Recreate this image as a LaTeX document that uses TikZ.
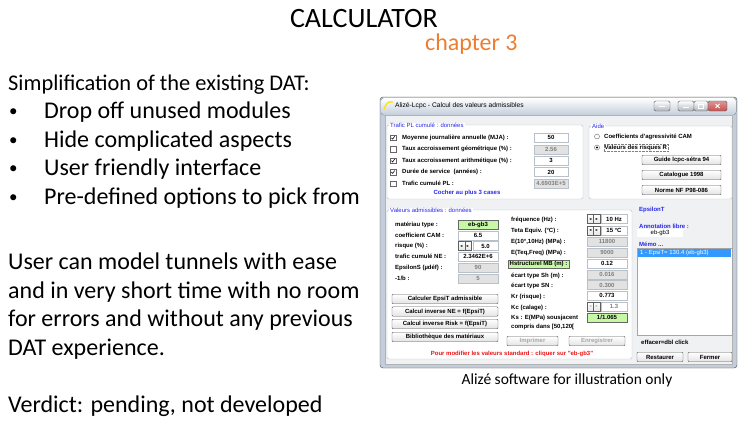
\documentclass[tikz,border=0pt]{standalone}
\usepackage{fontspec}
\setmainfont{Carlito}
\newfontfamily\winfont{Liberation Sans}
\usetikzlibrary{positioning}
\definecolor{chapterorange}{RGB}{237,125,49}
\definecolor{winframe}{RGB}{196,206,218}
\definecolor{winback}{RGB}{240,241,243}
\definecolor{groupline}{RGB}{186,192,200}
\definecolor{winblue}{RGB}{40,40,235}
\definecolor{winred}{RGB}{235,20,20}
\definecolor{fieldgray}{RGB}{226,226,226}
\definecolor{fieldgreen}{RGB}{198,248,166}
\definecolor{memosel}{RGB}{51,153,255}
\definecolor{closered}{RGB}{199,80,80}

\begin{document}
\begin{tikzpicture}[x=1pt,y=-1pt,
  slide/.style={font=\fontsize{24}{29}\selectfont,inner sep=0pt,anchor=base west},
  win/.style={font=\winfont\fontsize{6}{7}\selectfont\bfseries,inner sep=0pt},
  winlight/.style={font=\winfont\fontsize{6}{7}\selectfont,inner sep=0pt},
  lbl/.style={win,anchor=west},
  grouptitle/.style={winlight,anchor=west,text=winblue,fill=white,inner xsep=1pt},
  groupbox/.style={draw=groupline,fill=white,rounded corners=1.5pt},
  field/.style={win,draw=groupline,fill=white,minimum height=9pt,minimum width=40pt},
  grayfield/.style={field,fill=fieldgray,text=gray},
  greenfield/.style={field,draw=gray!80!black,fill=fieldgreen},
  btn/.style={win,draw=gray!75!black,top color=white,bottom color=gray!22,rounded corners=1pt,minimum height=9.5pt,minimum width=106pt},
  spin/.style={draw=gray!75!black,top color=white,bottom color=gray!20,minimum width=6.5pt,minimum height=9pt,inner sep=0pt,font=\winfont\fontsize{3.6}{4}\selectfont},
  chk/.style={draw=gray!80!black,fill=white,minimum size=5.5pt,inner sep=0pt},
  radio/.style={circle,draw=gray!80!black,fill=white,minimum size=5pt,inner sep=0pt},
  tbtn/.style={draw=gray!70!black,top color=white,bottom color=winframe!70!gray,rounded corners=1.5pt,minimum height=10pt,inner sep=0pt}]
\useasboundingbox (0,0) rectangle (739,421);

% slide text
\node[font=\fontsize{28}{34}\selectfont,anchor=base,inner sep=0pt] (title) at (364,27) {CALCULATOR};
\node[slide,text=chapterorange] (chapter) at (425,50) {chapter 3};
\node[slide,font=\fontsize{22.4}{29}\selectfont] (simpl) at (8,90) {Simplification of the existing DAT:};
\foreach \txt [count=\i] in {Drop off unused modules,Hide complicated aspects,User friendly interface,Pre-defined options to pick from}{
  \node[slide,font=\fontsize{17}{20}\selectfont] (bul\i) at (9,88+28.5*\i) {\textbullet};
  \node[slide] (item\i) at (44,90+28.5*\i) {\txt};
}
\foreach \txt [count=\i] in {User can model tunnels with ease,and in very short time with no room,for errors and without any previous,DAT experience.}
  \node[slide] (para\i) at (8,241+28.5*\i) {\txt};
\node[slide] (verdict) at (8,412) {Verdict: pending, not developed};

% window
\draw[draw=gray!60!black,fill=winframe,rounded corners=3pt] (380,97) rectangle (737,368);
\fill[top color=white,bottom color=winframe,rounded corners=3pt] (381,98) rectangle (736,115);
\draw[draw=gray!60,fill=winback] (385,115) rectangle (732,364);
\draw[draw=yellow!85!orange,line width=1.3pt] (384,109) .. controls (386,103) and (389,101) .. (393,102);
\node[winlight,anchor=west,font=\winfont\fontsize{6.7}{7}\selectfont] (wintitle) at (395,105.5) {Alizé-Lcpc - Calcul des valeurs admissibles};
\node[tbtn,minimum width=16pt] (tbhelp) at (662,106) {};
\node[tbtn,minimum width=16pt] (tbmin) at (686,106) {};
\node[tbtn,minimum width=14pt] (tbmax) at (701,106) {};
\node[tbtn,minimum width=19pt,top color=closered!60,bottom color=closered] (tbclose) at (717.5,106) {};
\draw[white,line width=1pt] ([xshift=-3pt]tbhelp.center) -- ([xshift=3pt]tbhelp.center);
\draw[white,line width=1pt] ([shift={(-3pt,-1.5pt)}]tbmin.center) -- ([shift={(3pt,-1.5pt)}]tbmin.center);
\draw[white,line width=0.6pt] ([shift={(-2.5pt,-2pt)}]tbmax.center) rectangle ([shift={(2.5pt,2pt)}]tbmax.center);
\draw[white,line width=0.9pt] ([shift={(-2pt,-2pt)}]tbclose.center) -- ([shift={(2pt,2pt)}]tbclose.center)
  ([shift={(-2pt,2pt)}]tbclose.center) -- ([shift={(2pt,-2pt)}]tbclose.center);

% Trafic PL
\draw[groupbox] (387,125) rectangle (583,199);
\node[grouptitle] (grp1) at (389,125) {Trafic PL cumulé : données};
\foreach \txt/\val/\kind [count=\i] in {
  {Moyenne journalière annuelle (MJA) :}/50/field,
  {Taux accroissement géométrique (\%) :}/2.56/grayfield,
  {Taux accroissement arithmétique (\%) :}/3/field,
  {Durée de service~ (années) :}/20/field,
  {Trafic cumulé PL :}/4.6903E+5/grayfield}{
  \node[chk] (chk\i) at (393,126.5+11.4*\i) {};
  \node[lbl] (pl\i) at (402,126.5+11.4*\i) {\txt};
  \node[\kind,minimum width=34pt] (plv\i) at (551,126.5+11.4*\i) {\val};
}
\foreach \i in {1,3,4}
  \draw[line width=0.55pt] ([xshift=-1.6pt]chk\i.center) -- ++(1.2,1.3) -- ++(2.1,-2.9);
\node[win,text=winblue] (cocher) at (467,193) {Cocher au plus 3 cases};

% Aide
\draw[groupbox] (589,126) rectangle (732,199);
\node[grouptitle] (grp2) at (591,126) {Aide};
\node[radio] (rad1) at (597,136.5) {};
\node[lbl] (cam) at (604,136.5) {Coefficients d'agressivité CAM};
\node[radio] (rad2) at (597,147.5) {};
\fill (rad2.center) circle (1.1pt);
\node[lbl,draw=gray,densely dotted,inner sep=1pt] (risq) at (603.5,147.5) {Valeurs des risques R};
\node[btn,minimum width=79pt] (guide) at (681.5,160) {Guide lcpc-sétra 94};
\node[btn,minimum width=79pt] (catal) at (681.5,175) {Catalogue 1998};
\node[btn,minimum width=79pt] (norme) at (681.5,190) {Norme NF P98-086};

% Valeurs admissibles
\draw[groupbox] (387,210) rectangle (632,359);
\node[grouptitle] (grp3) at (389,210) {Valeurs admissibles : données};
\foreach \txt [count=\i] in {{matériau type :},{coefficient CAM :},{risque (\%) :},{trafic cumulé NE :},{EpsilonS (µdéf) :},{-1/b :}}
  \node[lbl] (adm\i) at (395,214+10.7*\i) {\txt};
\node[greenfield] (admv1) at (478,224.7) {eb-gb3};
\node[field] (admv2) at (478,235.4) {6.5};
\node[spin] (admsl) at (461.5,246.1) {◄};
\node[spin] (admsr) at (468,246.1) {►};
\node[field,minimum width=25pt] (admv3) at (485.5,246.1) {5.0};
\node[field] (admv4) at (478,256.8) {2.3462E+6};
\node[grayfield] (admv5) at (478,267.5) {90};
\node[grayfield] (admv6) at (478,278.2) {5};
\foreach \txt/\yy [count=\i] in {{Calculer EpsiT admissible}/299,{Calcul inverse NE = f(EpsiT)}/311.5,{Calcul inverse Risk = f(EpsiT)}/324,{Bibliothèque des matériaux}/337}
  \node[btn] (calc\i) at (445,\yy) {\txt};
\node[btn,minimum width=51pt,text=gray!70] (imprimer) at (532.5,341) {Imprimer};
\node[btn,minimum width=56pt,text=gray!70] (enreg) at (597,341) {Enregistrer};
\node[win,text=winred] (modif) at (512,353.5) {Pour modifier les valeurs standard : cliquer sur "eb-gb3"};

\foreach \txt [count=\i] in {{fréquence (Hz) :},{Teta Equiv. (°C) :},{E(10°,10Hz) (MPa) :},{E(Teq,Freq) (MPa) :}}
  \node[lbl] (mid\i) at (511,208.5+11*\i) {\txt};
\node[lbl,draw=gray!80!black,fill=fieldgreen,inner xsep=1.5pt,inner ysep=1.3pt] (mid5) at (508,264) {Hstructurel MB (m) :};
\foreach \txt/\yy [count=\i from 6] in {{écart type Sh (m) :}/275.5,{écart type SN :}/286,{Kr (risque) :}/297,{Kc (calage) :}/307.5,{Ks : E(MPa) sousjacent}/318,{compris dans [50,120[}/326.5}
  \node[lbl] (mid\i) at (511,\yy) {\txt};

\foreach \val/\yy [count=\i] in {10 Hz/219,15 °C/230.5}{
  \node[spin] (sl\i) at (590.3,\yy) {◄};
  \node[spin] (sr\i) at (596.8,\yy) {►};
  \node[field,minimum width=26pt] (sv\i) at (614,\yy) {\val};
}
\foreach \val/\kind/\yy [count=\i] in {11800/grayfield/241.5,9000/grayfield/252.5,0.12/field/263.5,0.016/grayfield/274.5,0.300/grayfield/285,0.773/field/295.5}
  \node[\kind] (rv\i) at (607,\yy) {\val};
\node[spin,text=gray!60] (kcl) at (590.3,306.5) {◄};
\node[spin,text=gray!60] (kcr) at (596.8,306.5) {►};
\node[field,minimum width=26pt,text=gray] (kcv) at (614,306.5) {1.3};
\node[greenfield] (ksv) at (607,317.5) {1/1.065};

% EpsilonT
\node[lbl,text=winblue] (epst) at (639,210) {EpsilonT};
\node[lbl,text=winblue] (annot) at (639,226) {Annotation libre :};
\node[winlight,fill=white,minimum width=46pt,minimum height=8pt] (annotv) at (660,233) {eb-gb3};
\node[lbl,text=winblue] (memo) at (639,244.5) {Mémo ...};
\draw[draw=gray!70,fill=white] (637,248) rectangle (732,335);
\fill[memosel] (638,249) rectangle (731,256.5);
\node[winlight,anchor=west,text=white] (memo1) at (640,252.8) {1 - EpsiT= 130.4 (eb-gb3)};
\node[lbl] (effacer) at (641,342) {effacer=dbl click};
\node[btn,minimum width=46pt] (restaurer) at (660,357) {Restaurer};
\node[btn,minimum width=44pt] (fermer) at (710,357) {Fermer};

\node[font=\fontsize{15.5}{18}\selectfont,anchor=base,inner sep=0pt] (caption) at (567,384) {Alizé software for illustration only};
\end{tikzpicture}
\end{document}
